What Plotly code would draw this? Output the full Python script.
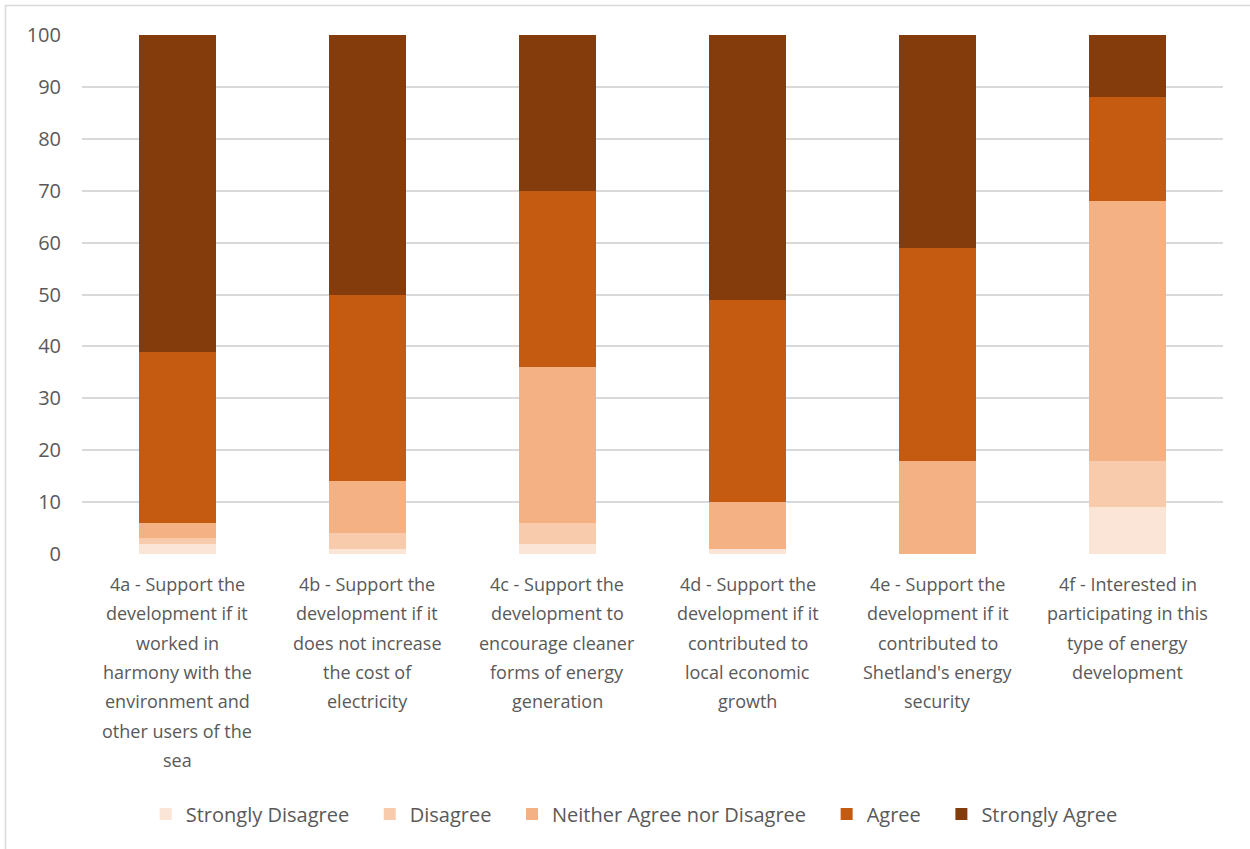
import plotly.graph_objects as go

categories = [
    "4a - Support the<br>development if it<br>worked in<br>harmony with the<br>environment and<br>other users of the<br>sea",
    "4b - Support the<br>development if it<br>does not increase<br>the cost of<br>electricity",
    "4c - Support the<br>development to<br>encourage cleaner<br>forms of energy<br>generation",
    "4d - Support the<br>development if it<br>contributed to<br>local economic<br>growth",
    "4e - Support the<br>development if it<br>contributed to<br>Shetland's energy<br>security",
    "4f - Interested in<br>participating in this<br>type of energy<br>development",
]

strongly_disagree = [2, 1, 2, 1, 0, 9]
disagree = [1, 3, 4, 0, 0, 9]
neither = [3, 10, 30, 9, 18, 50]
agree = [33, 36, 34, 39, 41, 20]
strongly_agree = [61, 50, 30, 51, 41, 12]

series = [
    ("Strongly Disagree", strongly_disagree, "#FBE5D6"),
    ("Disagree", disagree, "#F8CBAD"),
    ("Neither Agree nor Disagree", neither, "#F4B183"),
    ("Agree", agree, "#C55A11"),
    ("Strongly Agree", strongly_agree, "#843C0C"),
]

y_ticks = list(range(0, 101, 10))

FONT = "Open Sans"
TXT = "#595959"
PAD = "\u00a0\u00a0\u00a0"

fig = go.Figure()
for k, (name, vals, color) in enumerate(series):
    fig.add_trace(go.Bar(
        x=categories, y=vals, name=name + (PAD if k < len(series) - 1 else ""),
        marker=dict(color=color, line=dict(width=0)),
    ))

# category labels, one annotation per text line for Excel-like line spacing
annotations = []
for cat in categories:
    for i, line in enumerate(cat.split("<br>")):
        annotations.append(dict(
            x=cat, y=0, xref="x", yref="paper", text=line, showarrow=False,
            xanchor="center", yanchor="middle", yshift=-(30 + 29.3 * i),
            font=dict(size=18, color=TXT, family=FONT),
        ))

fig.update_layout(
    barmode="stack",
    bargap=0.595,
    width=1250, height=849,
    paper_bgcolor="white", plot_bgcolor="white",
    margin=dict(l=82, r=27, t=35, b=295),
    font=dict(family=FONT, color=TXT),
    showlegend=True,
    legend=dict(
        orientation="h", x=0.484, xanchor="center", y=-0.501, yanchor="middle",
        font=dict(size=20, color=TXT, family=FONT),
        traceorder="normal", itemwidth=30,
    ),
    xaxis=dict(
        showticklabels=False,
        showgrid=False, zeroline=False, showline=False, ticks="",
    ),
    yaxis=dict(
        range=[0, 100], tickvals=y_ticks,
        tickfont=dict(size=20, color=TXT, family=FONT),
        showgrid=True, gridcolor="#D9D9D9", gridwidth=1.5,
        zeroline=False, showline=False, ticks="",
        ticklabelstandoff=20,
    ),
    annotations=annotations,
    shapes=[dict(
        type="rect", xref="paper", yref="paper",
        x0=(5.5 - 82) / 1141, x1=1.1, y0=-0.7, y1=(554 - 5.5) / 519,
        line=dict(color="#D9D9D9", width=1.5), fillcolor="rgba(0,0,0,0)", layer="below",
    )],
)

fig.write_html("out.html")
